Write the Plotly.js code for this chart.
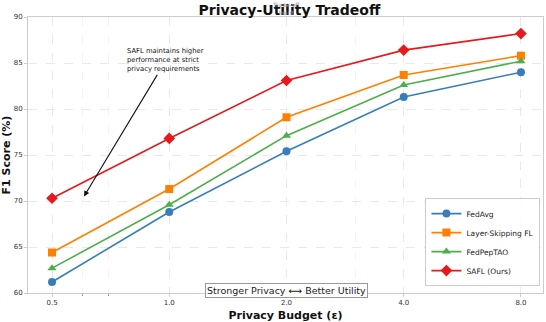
<!DOCTYPE html>
<html>
<head>
<meta charset="utf-8">
<script src="https://cdn.plot.ly/plotly-3.0.1.min.js"></script>
<style>body{margin:0;background:#fff}#chart{width:546px;height:322px}</style>
</head>
<body>
<div id="chart"></div>
<script>
// Privacy budgets and F1 scores
const budgets = [0.5, 1.0, 2.0, 4.0, 8.0];
const budgetLabels = ['0.5', '1.0', '2.0', '4.0', '8.0'];
const fedAvg = [61.2, 68.8, 75.4, 81.3, 84.0];
const layerSkip = [64.4, 71.3, 79.1, 83.7, 85.8];
const fedPepTAO = [62.7, 69.6, 77.1, 82.6, 85.2];
const safl = [70.3, 76.8, 83.1, 86.4, 88.2];

const font = 'DejaVu Sans, sans-serif';

function series(name, y, color, symbol, size) {
    return {
        x: budgets, y: y, name: name, mode: 'lines+markers', type: 'scatter',
        line: { color: color, width: 1.6 },
        marker: { color: color, symbol: symbol, size: size }
    };
}

const traces = [
    series('FedAvg', fedAvg, '#377eb8', 'circle', 8),
    series('Layer-Skipping FL', layerSkip, '#ff7f00', 'square', 8),
    series('FedPepTAO', fedPepTAO, '#4daf4a', 'triangle-up', 8),
    series('SAFL (Ours)', safl, '#e41a1c', 'diamond', 9)
];

const layout = {
    width: 546, height: 322,
    margin: { l: 28, r: 3, t: 17, b: 29 },
    paper_bgcolor: '#fff', plot_bgcolor: '#fff',
    font: { family: font, size: 8, color: '#222' },
    title: { text: '<b>Privacy-Utility Tradeoff</b>', font: { size: 14, color: '#111' }, x: 0.53, y: 0.968, yanchor: 'middle' },
    xaxis: {
        type: 'log', range: [-0.3627, 0.9597],
        tickvals: budgets, ticktext: budgetLabels,
        tickfont: { size: 7, color: '#333' },
        showgrid: true, gridcolor: '#e3e3e3', griddash: 'dash', gridwidth: 0.8,
        showline: true, linecolor: '#cccccc', mirror: true,
        ticks: 'outside', ticklen: 3, tickcolor: '#cccccc',
        minor: { tickvals: [0.6, 0.7, 3], showgrid: true, gridcolor: '#f0f0f0', ticks: 'outside', ticklen: 2, tickcolor: '#999' },
        zeroline: false,
        title: { text: '<b>Privacy Budget (ε)</b>', font: { size: 11, color: '#111' }, standoff: 6 }
    },
    yaxis: {
        range: [60, 90], tickvals: [60, 65, 70, 75, 80, 85, 90],
        tickfont: { size: 7, color: '#333' },
        showgrid: true, gridcolor: '#e3e3e3', griddash: 'dash', gridwidth: 0.8,
        showline: true, linecolor: '#cccccc', mirror: true,
        ticks: 'outside', ticklen: 3, tickcolor: '#cccccc',
        zeroline: false,
        title: { text: '<b>F1 Score (%)</b>', font: { size: 11, color: '#111' }, standoff: 4 }
    },
    legend: {
        x: 0.995, y: 0.025, xanchor: 'right', yanchor: 'bottom',
        bgcolor: 'rgba(255,255,255,0.9)', bordercolor: '#cccccc', borderwidth: 1,
        font: { size: 7.5, color: '#222' }, tracegroupgap: 0, itemwidth: 30
    },
    shapes: [{
        type: 'line', xref: 'x', yref: 'paper',
        x0: Math.log10(2), x1: Math.log10(2), y0: 0, y1: 1.0,
        line: { color: '#aaaaaa', width: 1, dash: 'dash' }, layer: 'below'
    }],
    annotations: [
        {
            x: Math.log10(2), y: 0.997, xref: 'x', yref: 'paper', yanchor: 'bottom',
            text: 'Trade-off<br>Point', showarrow: false,
            font: { size: 6, color: '#999' }
        },
        {
            x: Math.log10(0.604), y: 70.5, xref: 'x', yref: 'y',
            text: 'SAFL maintains higher<br>performance at strict<br>privacy requirements',
            align: 'left', font: { size: 6.8, color: '#111' },
            showarrow: true, arrowhead: 2, arrowsize: 1, arrowwidth: 1.1, arrowcolor: '#111',
            ax: 82, ay: -136
        },
        {
            x: Math.log10(2), y: 0.01, xref: 'x', yref: 'paper', yanchor: 'middle',
            text: 'Stronger Privacy ⟷ Better Utility', showarrow: false,
            font: { size: 9.5, color: '#222' },
            bgcolor: '#ffffff', bordercolor: '#999', borderwidth: 1, borderpad: 1
        }
    ]
};

Plotly.newPlot('chart', traces, layout, { displayModeBar: false, staticPlot: true });
</script>
</body>
</html>
